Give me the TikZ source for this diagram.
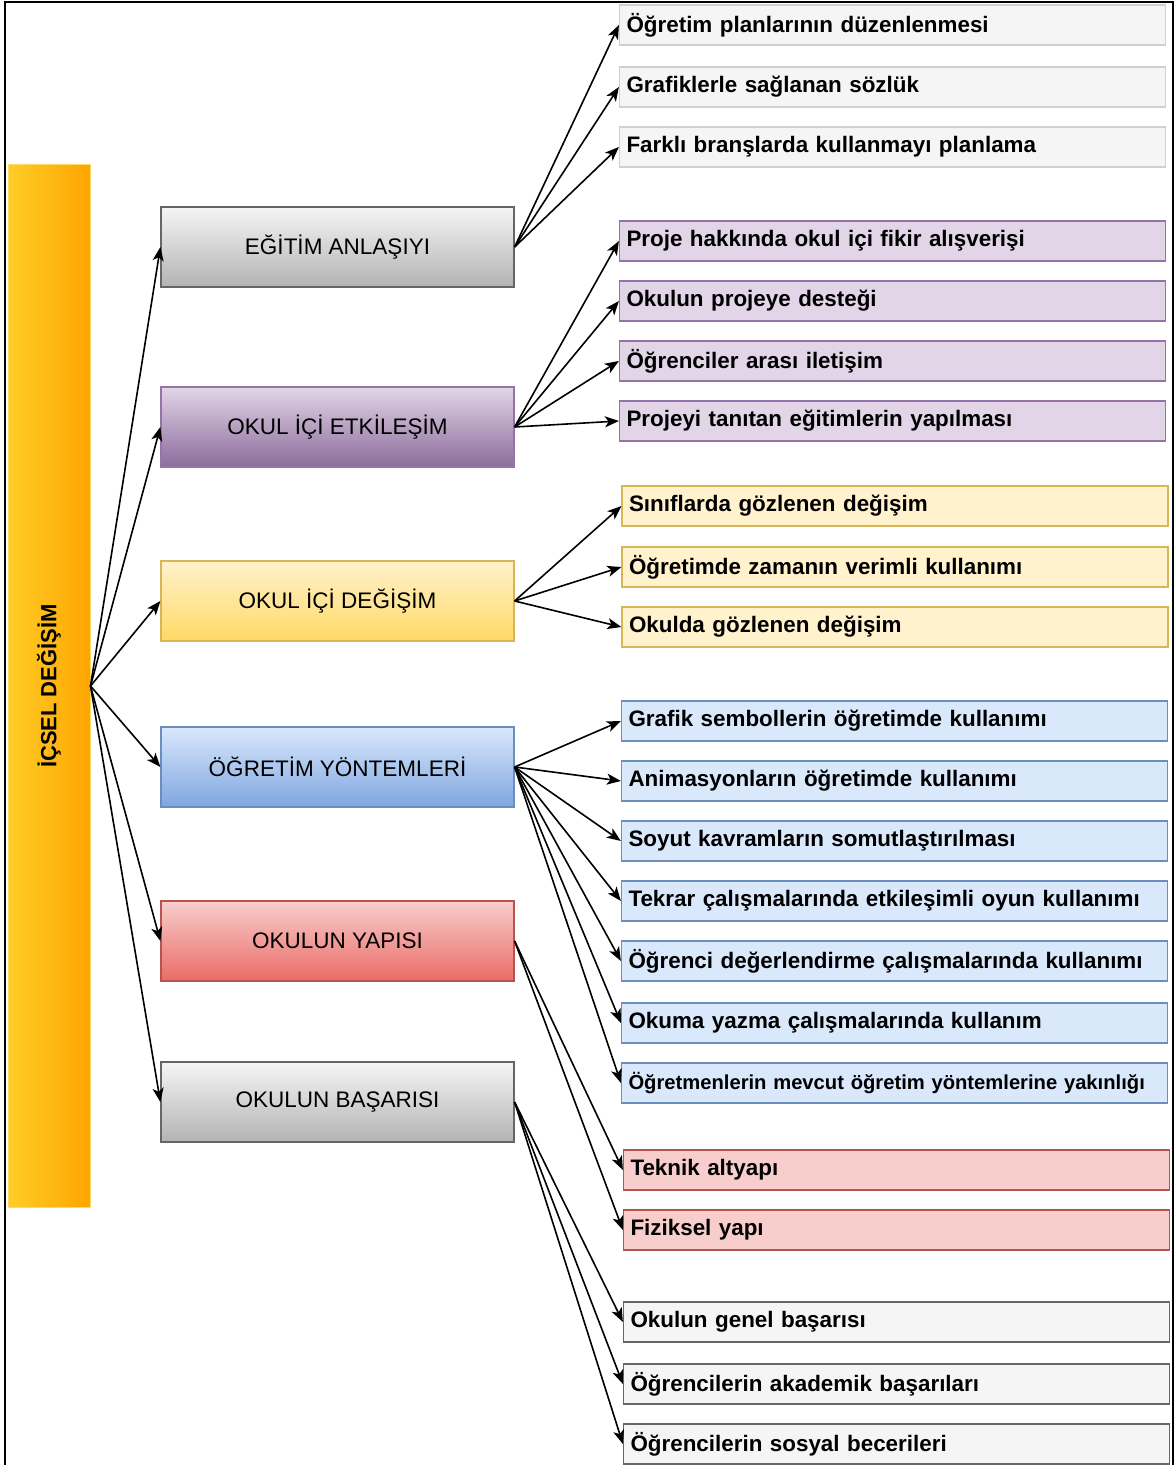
\documentclass[tikz,border=0pt]{standalone}
\usepackage{fontspec}
\setmainfont{Liberation Sans}
\usepackage{xcolor}
\definecolor{RootL}{HTML}{FFCD28}
\definecolor{RootR}{HTML}{FFA500}
\definecolor{RootLine}{HTML}{FFD966}
\definecolor{GrayTop}{HTML}{F5F5F5}
\definecolor{GrayBot}{HTML}{B3B3B3}
\definecolor{GrayLine}{HTML}{666666}
\definecolor{GrayLight}{HTML}{D0D0D0}
\definecolor{PurTop}{HTML}{E1D5E7}
\definecolor{PurBot}{HTML}{8C6C9C}
\definecolor{PurLine}{HTML}{9673A6}
\definecolor{YelTop}{HTML}{FFF2CC}
\definecolor{YelBot}{HTML}{FFD966}
\definecolor{YelLine}{HTML}{D6B656}
\definecolor{BluTop}{HTML}{DAE8FC}
\definecolor{BluBot}{HTML}{7EA6E0}
\definecolor{BluLine}{HTML}{6C8EBF}
\definecolor{RedTop}{HTML}{F8CECC}
\definecolor{RedBot}{HTML}{EA6B66}
\definecolor{RedLine}{HTML}{B85450}
\usepackage{tikz}
\usetikzlibrary{arrows.meta}
\tikzstyle{Root}=[draw=RootLine,line width=.5pt,left color=RootL,right color=RootR,
minimum width=41pt,minimum height=521pt,inner sep=0pt]
\tikzstyle{RootText}=[rotate=90,font=\bfseries\fontsize{11}{13}\selectfont]
\tikzstyle{Cat}=[line width=.6pt,minimum width=176.5pt,minimum height=40pt,
inner sep=0pt,font=\fontsize{11.25}{13}\selectfont]
\tikzstyle{Leaf}=[line width=.6pt,text width=266pt,align=left,inner xsep=3.5pt,
inner ysep=0pt,minimum height=20pt,font=\bfseries\fontsize{11.2}{13}\selectfont]
\tikzstyle{Edge}=[draw=black,line width=.8pt,
-{Stealth[length=7pt,width=5.5pt,inset=1.8pt]}]
\tikzstyle{CatGray}=[draw=GrayLine,top color=GrayTop,bottom color=GrayBot]
\tikzstyle{CatPur}=[draw=PurLine,top color=PurTop,bottom color=PurBot]
\tikzstyle{CatYel}=[draw=YelLine,top color=YelTop,bottom color=YelBot]
\tikzstyle{CatBlu}=[draw=BluLine,top color=BluTop,bottom color=BluBot]
\tikzstyle{CatRed}=[draw=RedLine,top color=RedTop,bottom color=RedBot]
\tikzstyle{LeafGray}=[draw=GrayLine,fill=GrayTop]
\tikzstyle{LeafLight}=[draw=GrayLight,fill=GrayTop]
\tikzstyle{LeafPur}=[draw=PurLine,fill=PurTop]
\tikzstyle{LeafYel}=[draw=YelLine,fill=YelTop]
\tikzstyle{LeafBlu}=[draw=BluLine,fill=BluTop]
\tikzstyle{LeafRed}=[draw=RedLine,fill=RedTop]
\begin{document}
\begin{tikzpicture}[x=.5pt,y=-.5pt]
            \useasboundingbox(0,0)rectangle(1175,1465);
            \fill[white](0,0)rectangle(1175,1465);
            \draw[line width=1pt](5,1465)--(5,2)--(1173,2)--(1173,1465);
            %
            \node[Root](r)at(49,686){};
            \node[RootText](rt)at(r.center){İÇSEL DEĞİŞİM};
            %
            \node[Cat,CatGray](c1)at(337.5,247){EĞİTİM ANLAŞIYI};
            \node[Cat,CatPur](c2)at(337.5,427){OKUL İÇİ ETKİLEŞİM};
            \node[Cat,CatYel](c3)at(337.5,601){OKUL İÇİ DEĞİŞİM};
            \node[Cat,CatBlu](c4)at(337.5,767){ÖĞRETİM YÖNTEMLERİ};
            \node[Cat,CatRed](c5)at(337.5,941){OKULUN YAPISI};
            \node[Cat,CatGray](c6)at(337.5,1102){OKULUN BAŞARISI};
            %
            \node[Leaf,LeafLight](l11)at(892.5,25){Öğretim planlarının düzenlenmesi};
            \node[Leaf,LeafLight](l12)at(892.5,87){Grafiklerle sağlanan sözlük};
            \node[Leaf,LeafLight](l13)at(892.5,147){Farklı branşlarda kullanmayı planlama};
            \node[Leaf,LeafPur](l21)at(892.5,241){Proje hakkında okul içi fikir alışverişi};
            \node[Leaf,LeafPur](l22)at(892.5,301){Okulun projeye desteği};
            \node[Leaf,LeafPur](l23)at(892.5,361){Öğrenciler arası iletişim};
            \node[Leaf,LeafPur](l24)at(892.5,421){Projeyi tanıtan eğitimlerin yapılması};
            \node[Leaf,LeafYel](l31)at(895,506){Sınıflarda gözlenen değişim};
            \node[Leaf,LeafYel](l32)at(895,567){Öğretimde zamanın verimli kullanımı};
            \node[Leaf,LeafYel](l33)at(895,627){Okulda gözlenen değişim};
            \node[Leaf,LeafBlu](l41)at(894.5,721){Grafik sembollerin öğretimde kullanımı};
            \node[Leaf,LeafBlu](l42)at(894.5,781){Animasyonların öğretimde kullanımı};
            \node[Leaf,LeafBlu](l43)at(894.5,841){Soyut kavramların somutlaştırılması};
            \node[Leaf,LeafBlu](l44)at(894.5,901){Tekrar çalışmalarında etkileşimli oyun kullanımı};
            \node[Leaf,LeafBlu](l45)at(894.5,961){Öğrenci değerlendirme çalışmalarında kullanımı};
            \node[Leaf,LeafBlu](l46)at(894.5,1023){Okuma yazma çalışmalarında kullanım};
            \node[Leaf,LeafBlu,font=\bfseries\fontsize{10.1}{12}\selectfont](l47)at(894.5,1083)
                {Öğretmenlerin mevcut öğretim yöntemlerine yakınlığı};
            \node[Leaf,LeafRed](l51)at(896.5,1170){Teknik altyapı};
            \node[Leaf,LeafRed](l52)at(896.5,1230){Fiziksel yapı};
            \node[Leaf,LeafGray](l61)at(896.5,1322){Okulun genel başarısı};
            \node[Leaf,LeafGray](l62)at(896.5,1384){Öğrencilerin akademik başarıları};
            \node[Leaf,LeafGray](l63)at(896.5,1444){Öğrencilerin sosyal becerileri};
            %
            \draw[Edge](r.east)--(c1.west);
            \draw[Edge](r.east)--(c2.west);
            \draw[Edge](r.east)--(c3.west);
            \draw[Edge](r.east)--(c4.west);
            \draw[Edge](r.east)--(c5.west);
            \draw[Edge](r.east)--(c6.west);
            \draw[Edge](c1.east)--(l11.west);
            \draw[Edge](c1.east)--(l12.west);
            \draw[Edge](c1.east)--(l13.west);
            \draw[Edge](c2.east)--(l21.west);
            \draw[Edge](c2.east)--(l22.west);
            \draw[Edge](c2.east)--(l23.west);
            \draw[Edge](c2.east)--(l24.west);
            \draw[Edge](c3.east)--(l31.west);
            \draw[Edge](c3.east)--(l32.west);
            \draw[Edge](c3.east)--(l33.west);
            \draw[Edge](c4.east)--(l41.west);
            \draw[Edge](c4.east)--(l42.west);
            \draw[Edge](c4.east)--(l43.west);
            \draw[Edge](c4.east)--(l44.west);
            \draw[Edge](c4.east)--(l45.west);
            \draw[Edge](c4.east)--(l46.west);
            \draw[Edge](c4.east)--(l47.west);
            \draw[Edge](c5.east)--(l51.west);
            \draw[Edge](c5.east)--(l52.west);
            \draw[Edge](c6.east)--(l61.west);
            \draw[Edge](c6.east)--(l62.west);
            \draw[Edge](c6.east)--(l63.west);
        \end{tikzpicture}
\end{document}
